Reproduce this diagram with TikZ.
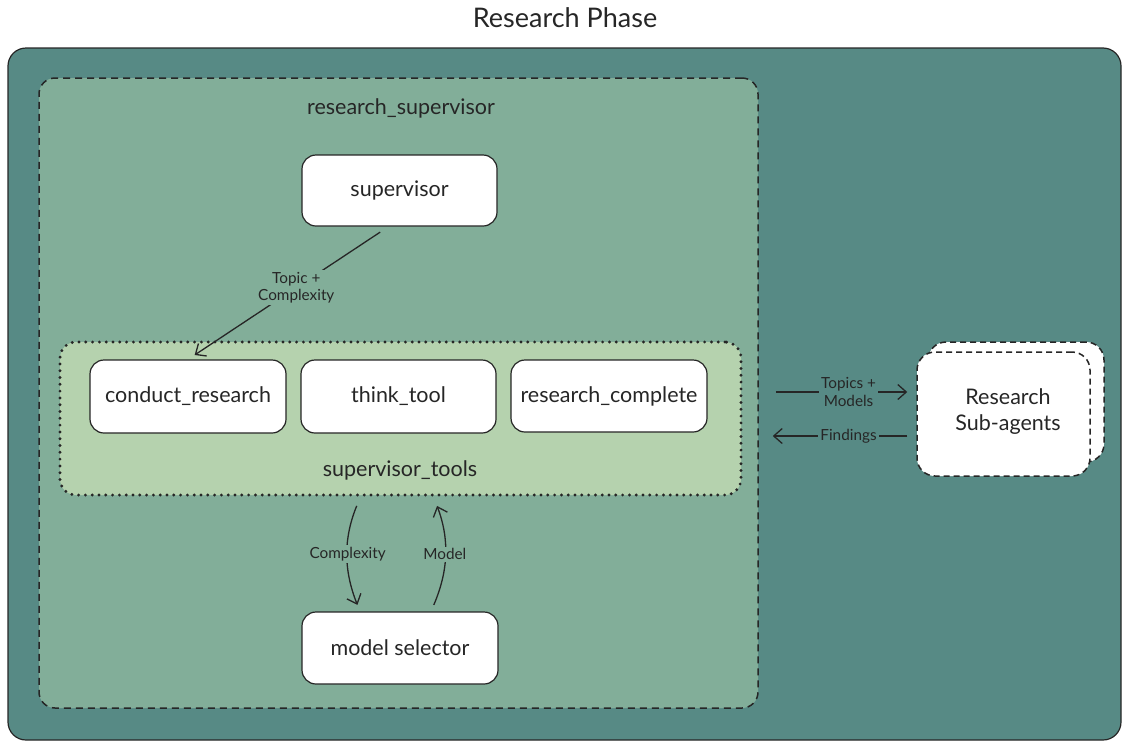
\documentclass[tikz,border=0pt]{standalone}
\usepackage{fontspec}
\setmainfont{Lato}
\usetikzlibrary{arrows.meta}
\definecolor{outerfill}{HTML}{578A85}
\definecolor{innerfill}{HTML}{82AE99}
\definecolor{toolfill}{HTML}{B5D2AE}
\definecolor{ink}{HTML}{262626}
\begin{document}
\begin{tikzpicture}[x=1pt,y=-1pt,
  every node/.style={text=ink},
  box/.style={draw=ink, line width=1.2pt, fill=white, rounded corners=14pt,
    font=\fontsize{21.5}{24}\selectfont, inner sep=0pt},
  arr/.style={draw=ink, line width=1.3pt, -{Straight Barb[length=8.5pt,width=15pt]}},
  lbl/.style={font=\fontsize{15.3}{17.5}\selectfont, align=center, inner sep=2pt},
]
\useasboundingbox (0,0) rectangle (1123,742);

% title
\node[font=\fontsize{27}{30}\selectfont] (title) at (565,18) {Research Phase};

% outer phase container
\node[draw=ink, line width=1.2pt, fill=outerfill, rounded corners=18pt,
  minimum width=1113, minimum height=692, inner sep=0pt] (phase) at (564.5,394) {};

% research_supervisor subgraph
\node[draw=ink, line width=1.5pt, dash pattern=on 7pt off 5pt, fill=innerfill,
  rounded corners=16pt, minimum width=719, minimum height=630, inner sep=0pt]
  (rs) at (398.5,393) {};
\node[font=\fontsize{21.5}{24}\selectfont] (rslbl) at (401,108) {research\_supervisor};

% supervisor_tools subgraph
\node[draw=ink, line width=3.2pt, dash pattern=on 0pt off 6.8pt, line cap=round,
  fill=toolfill, rounded corners=16pt, minimum width=681, minimum height=153,
  inner sep=0pt] (tools) at (400.5,418.5) {};
\node[font=\fontsize{21.5}{24}\selectfont] (toolslbl) at (400,470) {supervisor\_tools};

% nodes
\node[box, minimum width=195, minimum height=71] (sup) at (399.5,190.5) {supervisor};
\node[box, minimum width=196, minimum height=73] (cr) at (188,396.5) {conduct\_research};
\node[box, minimum width=195, minimum height=73] (tt) at (398.5,396.5) {think\_tool};
\node[box, minimum width=196, minimum height=72] (rc) at (609,396) {research\_complete};
\node[box, minimum width=196, minimum height=72] (sel) at (400,648) {model selector};

% research sub-agents (stacked)
\node[draw=ink, line width=1.5pt, dash pattern=on 6pt off 4pt, fill=white,
  rounded corners=18pt, minimum width=176, minimum height=120, inner sep=0pt]
  (saback) at (1016,402) {};
\node[draw=ink, line width=1.5pt, dash pattern=on 6pt off 4pt, fill=white,
  rounded corners=18pt, minimum width=173, minimum height=124, inner sep=0pt]
  (sa) at (1003.5,414) {};
\node[align=center, font=\fontsize{21.5}{26}\selectfont] (salbl) at (1008,412)
  {Research\\Sub-agents};

% connectors
\draw[arr, shorten <=10pt, shorten >=8pt] ([xshift=-11pt]sup.south) --
  node[lbl, fill=innerfill, pos=0.46] (tclbl) {Topic +\\Complexity} (cr.north);

\draw[arr, shorten <=10pt, shorten >=7pt] ([xshift=-40pt]tools.south) to[bend right=22]
  node[lbl, fill=innerfill] (cxlbl) {Complexity} ([xshift=-40pt]sel.north);
\draw[arr, shorten <=7pt, shorten >=10pt] ([xshift=31pt]sel.north) to[bend right=22]
  node[lbl, fill=innerfill] (mdlbl) {Model} ([xshift=33pt]tools.south);

\coordinate (tin) at ([yshift=22pt]sa.west);
\coordinate (fin) at ([yshift=-22pt]sa.west);
\draw[arr, shorten <=17pt, shorten >=9pt] (tin -| rs.east) --
  node[lbl, fill=outerfill, pos=0.57] (tmlbl) {Topics +\\Models} (tin);
\draw[arr, shorten <=9pt, shorten >=14pt] (fin) --
  node[lbl, fill=outerfill, pos=0.43] (fdlbl) {Findings} (fin -| rs.east);
\end{tikzpicture}
\end{document}
